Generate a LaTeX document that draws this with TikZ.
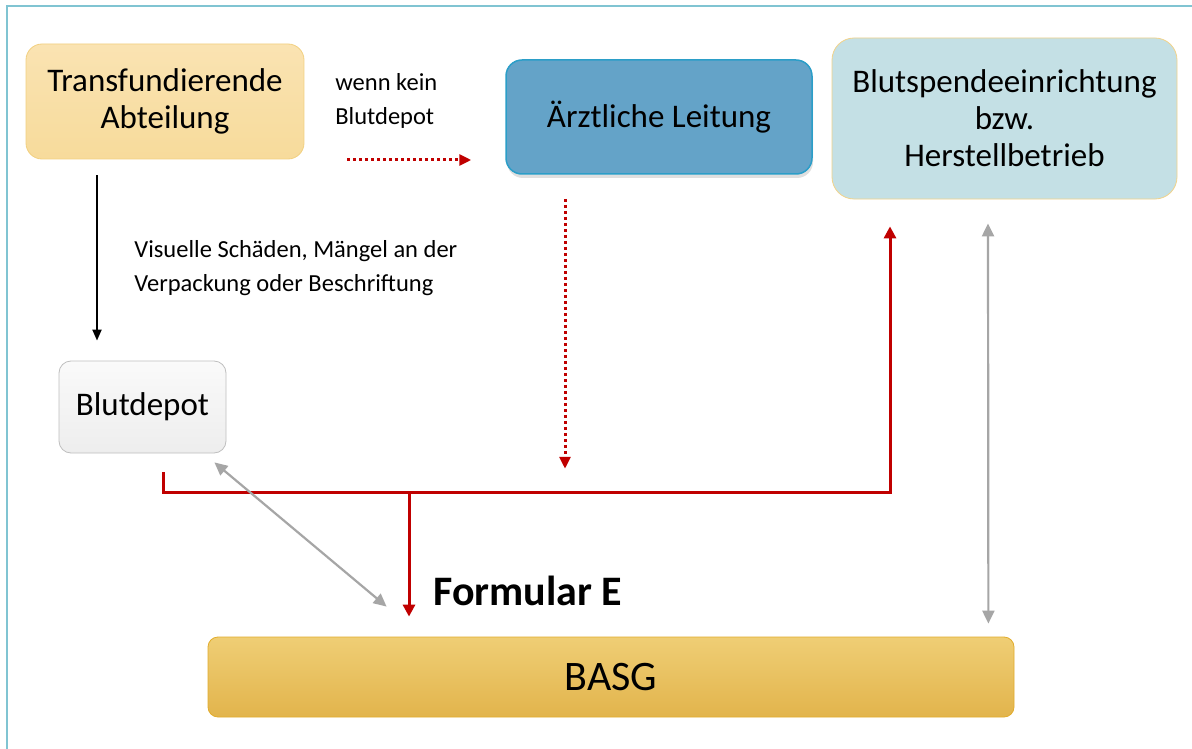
\documentclass[tikz,border=0pt]{standalone}
\usepackage{fontspec}
\setmainfont{Carlito}
\usetikzlibrary{arrows.meta,shadows}

\definecolor{framecol}{HTML}{80C4D2}
\definecolor{bloodred}{HTML}{C00000}
\definecolor{linegrey}{HTML}{A6A6A6}

\begin{document}
\begin{tikzpicture}[x=1pt,y=-1pt,thick]

    % `unit' will be used by all rounded boxes.
    % `redline' is the way of Formular E.
    % `greyline' is used for the exchange in both directions.
    \tikzstyle{unit} = [rounded corners=16pt,align=center,inner sep=0pt,
      font=\fontsize{33}{37}\selectfont]
    \tikzstyle{note} = [align=left,inner sep=0pt,anchor=west,
      font=\fontsize{24.5}{34.5}\selectfont]
    \tikzstyle{redline} = [bloodred,line width=3pt,
      -{Triangle[length=12pt,width=12pt]}]
    \tikzstyle{reddots} = [bloodred,line width=3pt,dash pattern=on 3pt off 3pt,
      -{Triangle[length=12pt,width=11pt]}]
    \tikzstyle{greyline} = [linegrey,line width=2.2pt,
      {Triangle[length=13pt,width=12pt]}-{Triangle[length=13pt,width=12pt]}]
    %
    \useasboundingbox (0,0) rectangle (1192,749);
    \fill[white] (0,0) rectangle (1192,749);
    \draw[framecol,line width=2pt] (7,749) -- (7,6) -- (1192,6);

    % Top row.
    \node[unit,draw={rgb,255:red,242;green,208;blue,128},
      top color={rgb,255:red,250;green,227;blue,178},
      bottom color={rgb,255:red,247;green,219;blue,155},
      minimum width=278pt,minimum height=115pt]
      (trans) at (165,101.5) {Transfundierende\\Abteilung};
    \node[unit,draw={rgb,255:red,43;green,158;blue,200},line width=1.5pt,
      fill={rgb,255:red,100;green,163;blue,200},
      minimum width=306pt,minimum height=114pt,
      drop shadow={shadow xshift=1pt,shadow yshift=-4pt,opacity=0.25}]
      (aerzt) at (659,117) {Ärztliche Leitung};
    \node[unit,rounded corners=22pt,draw={rgb,255:red,242;green,211;blue,138},
      fill={rgb,255:red,196;green,224;blue,229},minimum width=345pt,
      minimum height=161pt] (spende) at (1004.5,118.5)
      {Blutspendeeinrichtung\\bzw.\\Herstellbetrieb};

    % Middle and bottom.
    \node[unit,rounded corners=12pt,draw=black!25,top color=black!2,
      bottom color=black!7,minimum width=167pt,minimum height=92pt]
      (depot) at (142.5,407) {Blutdepot};
    \node[unit,rounded corners=10pt,draw={rgb,255:red,226;green,172;blue,44},
      top color={rgb,255:red,239;green,206;blue,117},
      middle color={rgb,255:red,241;green,201;blue,100},
      bottom color={rgb,255:red,226;green,180;blue,76},
      minimum width=806pt,minimum height=80pt,font=\fontsize{42}{48}\selectfont]
      (basg) at (611,677) {BASG};

    % Texts.
    \node[note] (kein) at (335,101) {wenn kein\\Blutdepot};
    \node[note] (schaden) at (134,268)
      {Visuelle Schäden, Mängel an der\\Verpackung oder Beschriftung};
    \node[anchor=base west,inner sep=0pt,font=\fontsize{42}{48}\selectfont\bfseries]
      (formE) at (433,605) {Formular E};

    % Draw lines.
    \coordinate (j1) at (409,492);
    \draw[black,line width=2pt,-{Triangle[length=11pt,width=9pt]}]
      ([shift={(-68,16)}]trans.south) -- ([shift={(-45.5,-20)}]depot.north);
    \draw[reddots] ([shift={(-158,43)}]aerzt.west) -- ([shift={(-34,43)}]aerzt.west);
    \draw[reddots] ([shift={(-94,24)}]aerzt.south) -- ++(0,270);
    \draw[redline] ([shift={(20.5,19)}]depot.south) -- ++(0,20)
      -| ([shift={(-114.5,27)}]spende.south);
    \draw[redline] (j1) -- ([shift={(-202,-20)}]basg.north);
    \draw[greyline] ([shift={(-12,9)}]depot.south east)
      -- ([shift={(179,-30)}]basg.north west);
    \draw[greyline] ([shift={(-16.5,24)}]spende.south)
      -- ([shift={(-26,-13)}]basg.north east);
    %
\end{tikzpicture}
\end{document}
